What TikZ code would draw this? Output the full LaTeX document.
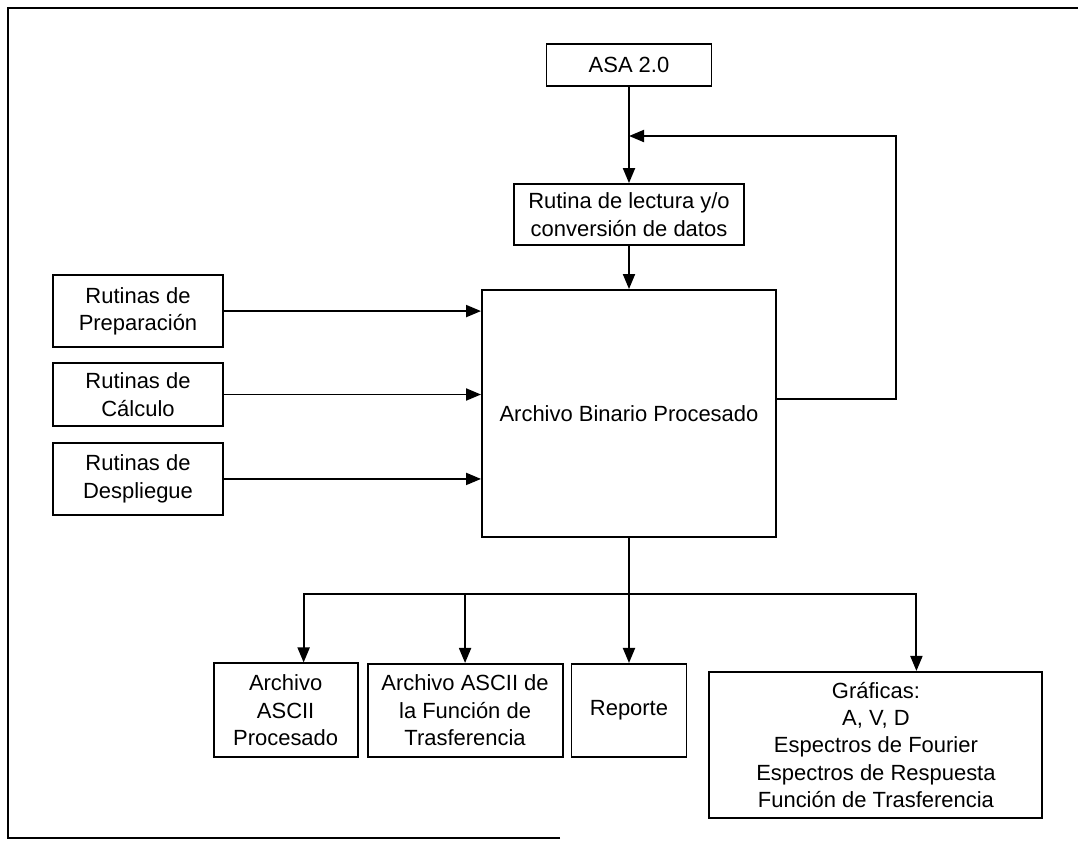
\documentclass[tikz,border=0pt]{standalone}
\usepackage{fontspec}
\setmainfont{Liberation Sans}
\usepackage{xcolor}
\usepackage{tikz}
\usetikzlibrary{arrows.meta,positioning}

\begin{document}
\begin{tikzpicture}[
    node distance=0.3cm,
    line width=1.1pt,
    block/.style={rectangle, draw, align=center, inner sep=2pt, font=\fontsize{12.5}{15.6}\selectfont},
    flow/.style={-{Triangle[length=3mm,width=2.4mm]}}
]

\useasboundingbox (0,0) rectangle (21.56,-17.08);

% Frame
\draw (11.2,-16.76) -- (0.16,-16.76) -- (0.16,-0.16) -- (21.56,-0.16);

\node[block, minimum width=5.88cm, minimum height=4.94cm] (binario) at (12.58,-8.27) {Archivo Binario Procesado};

\node[block, minimum width=4.6cm, minimum height=1.22cm, above=0.86cm of binario] (lectura) {
    Rutina de lectura y/o\\
    conversión de datos
};

\node[block, minimum width=3.3cm, minimum height=0.84cm, above=1.92cm of lectura] (asa) {ASA 2.0};

\node[block, minimum width=3.4cm, minimum height=1.26cm] (calculo) at (2.76,-7.89) {
    Rutinas de\\
    Cálculo
};

\node[block, minimum width=3.4cm, minimum height=1.44cm, above=0.28cm of calculo] (preparacion) {
    Rutinas de\\
    Preparación
};

\node[block, minimum width=3.4cm, minimum height=1.44cm, below=0.3cm of calculo] (despliegue) {
    Rutinas de\\
    Despliegue
};

\node[block, minimum width=2.3cm, minimum height=1.86cm, below=2.5cm of binario] (reporte) {Reporte};

\node[block, minimum width=3.9cm, minimum height=1.86cm, left=0.14cm of reporte] (asciifuncion) {
    Archivo ASCII de\\
    la Función de\\
    Trasferencia
};

\node[block, minimum width=2.88cm, minimum height=1.88cm, left=0.16cm of asciifuncion] (asciiproc) {
    Archivo\\
    ASCII\\
    Procesado
};

\node[block, minimum width=6.66cm, minimum height=2.92cm, below right=0.16cm and 0.42cm of reporte.north east] (graficas) {
    Gráficas:\\
    A, V, D\\
    Espectros de Fourier\\
    Espectros de Respuesta\\
    Función de Trasferencia
};

% Entrada de datos
\draw[flow] (asa) -- (lectura);
\draw[flow] (lectura) -- (binario);

% Rutinas
\draw[flow] (preparacion) -- (preparacion -| binario.west);
\draw[flow] (calculo) -- (calculo -| binario.west);
\draw[flow] (despliegue) -- (despliegue -| binario.west);

% Retorno
\coordinate (retorno) at (17.92,-2.72);
\draw[flow] ([yshift=0.29cm]binario.east) -| (retorno) -- (retorno -| asa.south);

% Salidas
\coordinate[below=1.12cm of binario.south] (split);
\draw[flow] (binario.south) -- (binario.south |- reporte.north);
\draw[flow] (split) -| ([xshift=0.36cm]asciiproc.north);
\draw[flow] (split -| asciifuncion.north) -- (asciifuncion.north);
\draw[flow] (split) -| ([xshift=0.81cm]graficas.north);

\end{tikzpicture}
\end{document}
